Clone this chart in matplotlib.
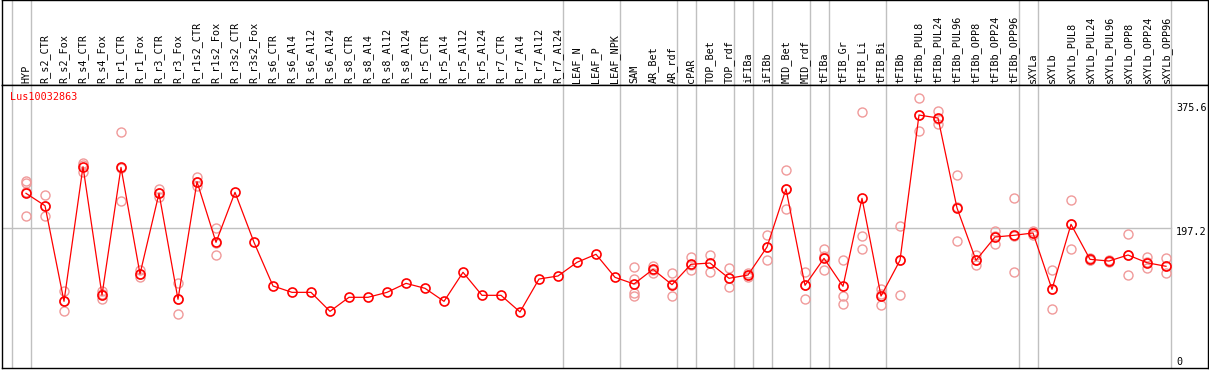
import matplotlib
matplotlib.use("Agg")
import matplotlib.pyplot as plt

# sample names (column headers)
samples = ['HYP', 'R_s2_CTR', 'R_s2_Fox', 'R_s4_CTR', 'R_s4_Fox', 'R_r1_CTR', 'R_r1_Fox',
           'R_r3_CTR', 'R_r3_Fox', 'R_r1s2_CTR', 'R_r1s2_Fox', 'R_r3s2_CTR', 'R_r3s2_Fox',
           'R_s6_CTR', 'R_s6_Al4', 'R_s6_Al12', 'R_s6_Al24', 'R_s8_CTR', 'R_s8_Al4',
           'R_s8_Al12', 'R_s8_Al24', 'R_r5_CTR', 'R_r5_Al4', 'R_r5_Al12', 'R_r5_Al24',
           'R_r7_CTR', 'R_r7_Al4', 'R_r7_Al12', 'R_r7_Al24', 'LEAF_N', 'LEAF_P', 'LEAF_NPK',
           'SAM', 'AR_Bet', 'AR_rdf', 'cPAR', 'TOP_Bet', 'TOP_rdf', 'iFIBa', 'iFIBb',
           'MID_Bet', 'MID_rdf', 'tFIBa', 'tFIB_Gr', 'tFIB_Li', 'tFIB_Bi', 'tFIBb',
           'tFIBb_PUL8', 'tFIBb_PUL24', 'tFIBb_PUL96', 'tFIBb_OPP8', 'tFIBb_OPP24',
           'tFIBb_OPP96', 'sXYLa', 'sXYLb', 'sXYLb_PUL8', 'sXYLb_PUL24', 'sXYLb_PUL96',
           'sXYLb_OPP8', 'sXYLb_OPP24', 'sXYLb_OPP96']

# mean expression per sample
means = [246.6, 229.1, 94.1, 284.2, 103.0, 283.2, 132.7, 246.6, 97.0, 263.0, 177.4,
         248.0, 177.4, 115.8, 106.8, 106.8, 80.0, 99.8, 99.8, 106.8, 119.5, 112.5, 94.1,
         135.1, 102.6, 102.6, 79.1, 125.6, 129.9, 149.2, 160.5, 128.0, 118.6, 139.3,
         117.6, 146.4, 148.2, 126.6, 131.3, 170.8, 252.7, 116.7, 154.8, 115.3, 239.5,
         101.6, 152.0, 357.1, 352.9, 225.9, 152.0, 184.9, 187.3, 190.6, 111.1, 202.8,
         153.4, 151.0, 159.5, 148.6, 143.6]

# replicate values per sample
replicates = [[264, 261, 249, 214], [244, 229, 214], [109, 94, 80], [290, 286, 277],
              [109, 104, 97], [333, 283, 236], [138, 132, 129], [252, 247, 241],
              [120, 97, 76], [269, 263, 257], [197, 177, 160], [], [],
              [], [], [], [], [], [], [], [], [], [], [], [], [], [], [], [],
              [], [], [],
              [142, 126, 106, 101], [144, 139, 134], [134, 118, 102], [157, 146, 138],
              [160, 148, 135], [141, 127, 114], [134, 131, 128], [188, 171, 152],
              [279, 253, 225], [135, 117, 97], [168, 158, 138], [153, 102, 91],
              [361, 187, 168], [111, 104, 89], [201, 153, 103], [381, 357, 335],
              [363, 352, 344], [272, 227, 179], [160, 152, 145], [193, 186, 175],
              [240, 187, 135], [193, 190, 188], [138, 111, 83], [237, 203, 168],
              [155, 153, 152], [152, 151, 149], [189, 160, 131], [157, 149, 141],
              [155, 144, 134]]

# group boundaries (column index where a new group starts)
groups = [0, 1, 29, 32, 35, 36, 38, 39, 40, 42, 43, 46, 53, 54, 61]

gene = 'Lus10032863'
ymax_label = 375.6
ymid_label = 197.2

W, H = 1209, 370
fig = plt.figure(figsize=(W / 100, H / 100), dpi=100)
mono = 'DejaVu Sans Mono'
grey = '#c0c0c0'

xlim = ((2 - 26) / 19, (1208 - 26) / 19)
off = (11.7 - 26) / 19

# header with sample names
hax = fig.add_axes([2 / W, (H - 85) / H, 1206 / W, 85 / H])
hax.set_xlim(*xlim)
hax.set_ylim(0, 1)
hax.set_xticks([])
hax.set_yticks([])
for s in hax.spines.values():
    s.set_color('black')
    s.set_linewidth(1)
for g in groups:
    hax.axvline(g + off, color=grey, lw=1)
for i, name in enumerate(samples):
    hax.text(i, 0.025, name, rotation=90, ha='center', va='bottom',
             fontsize=7.3, family=mono)

# plot area
ax = fig.add_axes([2 / W, 2 / H, 1206 / W, 283 / H])
ax.set_xlim(*xlim)
ax.set_ylim(0, 399.5)
ax.set_xticks([])
ax.set_yticks([])
for s in ax.spines.values():
    s.set_color('black')
    s.set_linewidth(1)
for g in groups:
    ax.axvline(g + off, color=grey, lw=1, zorder=1)
ax.plot([xlim[0], 61 + off], [ymid_label, ymid_label], color=grey, lw=1, zorder=1)

for i, reps in enumerate(replicates):
    if reps:
        ax.plot([i] * len(reps), reps, linestyle='none', marker='o', ms=6.5,
                mfc='none', mec='#f09a9a', mew=1.0, zorder=2)

idx = list(range(len(samples)))
ax.plot(idx, means, color='red', lw=0.9, marker='o', ms=6.5, mfc='none',
        mec='red', mew=1.2, zorder=3)

fig.text(10 / W, 1 - 97 / H, gene, color='red', fontsize=7.3, family=mono,
         ha='left', va='center')
fig.text(1176 / W, 1 - 108 / H, str(ymax_label), fontsize=7.3, family=mono,
         ha='left', va='center')
fig.text(1176 / W, 1 - 232 / H, str(ymid_label), fontsize=7.3, family=mono,
         ha='left', va='center')
fig.text(1176 / W, 1 - 362 / H, '0', fontsize=7.3, family=mono,
         ha='left', va='center')

fig.savefig('out.png', dpi=100)
